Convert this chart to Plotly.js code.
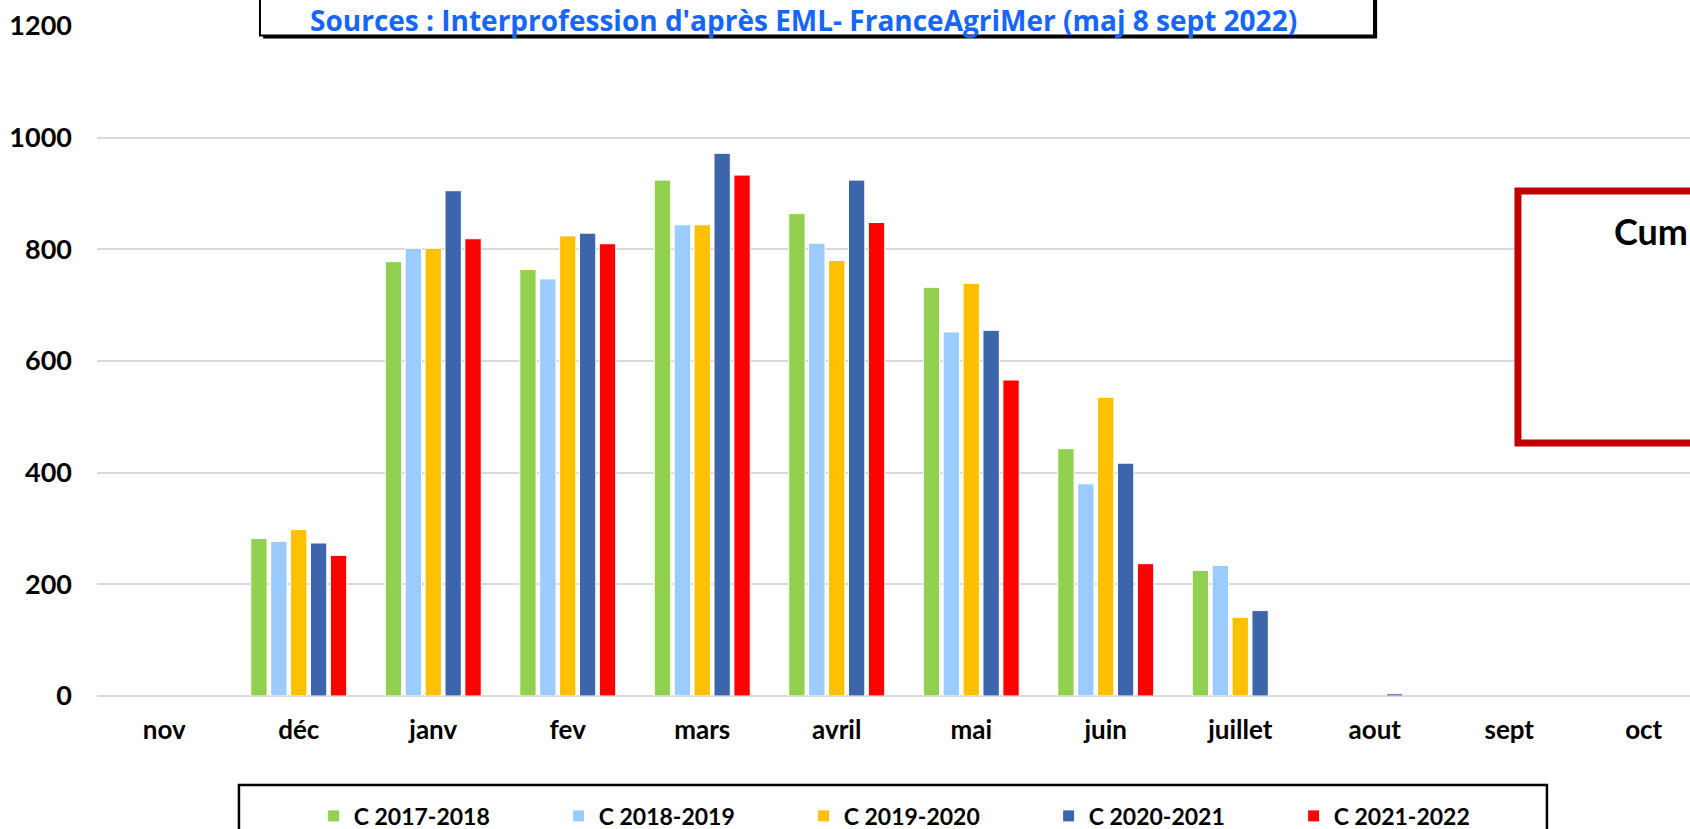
<!DOCTYPE html>
<html>
<head>
<meta charset="utf-8">
<script src="https://cdn.plot.ly/plotly-3.0.1.min.js"></script>
<style>
  html, body { margin: 0; padding: 0; background: #fff; }
  #chart { width: 1690px; height: 829px; }
</style>
</head>
<body>
<div id="chart"></div>
<script>
// months of the campaign (nov -> oct)
var months = ['nov', 'déc', 'janv', 'fev', 'mars', 'avril', 'mai', 'juin', 'juillet', 'aout', 'sept', 'oct'];

var c2017 = [null, 282, 778, 764, 924, 864, 732, 443, 225, null, null, null];
var c2018 = [null, 277, 802, 747, 844, 811, 652, 380, 234, null, null, null];
var c2019 = [null, 298, 802, 824, 844, 780, 739, 535, 141, null, null, null];
var c2020 = [null, 274, 905, 829, 972, 924, 655, 417, 153, 4, null, null];
var c2021 = [null, 252, 819, 810, 933, 848, 566, 237, null, null, null, null];

var seriesNames = ['C 2017-2018', 'C 2018-2019', 'C 2019-2020', 'C 2020-2021', 'C 2021-2022'];
var seriesColors = ['#92D050', '#9BCBFF', '#FFC000', '#3D65AB', '#FF0000'];
var seriesValues = [c2017, c2018, c2019, c2020, c2021];

var yTicks = [0, 200, 400, 600, 800, 1000, 1200];

var boldFont = { family: 'Lato, "Open Sans", sans-serif', weight: 700, color: '#000' };

var data = seriesValues.map(function (vals, i) {
    return {
        name: seriesNames[i],
        type: 'bar',
        x: months,
        y: vals,
        marker: {
            color: seriesColors[i],
            line: { color: '#ffffff', width: 1 }
        },
        hoverinfo: 'x+y+name'
    };
});

// plot area: 97..1690 px wide, 26..696 px high
var layout = {
    width: 1690,
    height: 829,
    paper_bgcolor: '#ffffff',
    plot_bgcolor: '#ffffff',
    margin: { l: 97, r: 0, t: 26, b: 133, pad: 0, autoexpand: false },
    barmode: 'group',
    bargap: 0.26,
    bargroupgap: 0.18,
    showlegend: true,
    legend: {
        orientation: 'h',
        x: 0.136,
        xanchor: 'left',
        y: -0.179,
        yanchor: 'middle',
        entrywidth: 200,
        entrywidthmode: 'pixels',
        font: Object.assign({ size: 23 }, boldFont),
        bgcolor: 'rgba(0,0,0,0)',
        borderwidth: 0
    },
    xaxis: {
        type: 'category',
        range: [-0.5, 11.344],
        automargin: false,
        showgrid: false,
        showline: false,
        zeroline: false,
        ticks: '',
        ticklabelstandoff: 16,
        tickfont: Object.assign({ size: 26 }, boldFont),
        fixedrange: true
    },
    yaxis: {
        range: [0, 1200],
        automargin: false,
        tickmode: 'array',
        tickvals: yTicks,
        ticktext: yTicks.map(String),
        showgrid: true,
        gridcolor: '#D9D9D9',
        gridwidth: 2,
        zeroline: true,
        zerolinecolor: '#D9D9D9',
        zerolinewidth: 2,
        showline: false,
        ticks: '',
        ticklabelstandoff: 24,
        tickfont: Object.assign({ size: 27 }, boldFont),
        fixedrange: true
    },
    shapes: [
        // title box shadow + box
        { type: 'rect', xref: 'paper', yref: 'paper', x0: 0.1043, x1: 0.8036, y0: 0.9813, y1: 1.06,
          fillcolor: '#000000', line: { width: 0 }, layer: 'above' },
        { type: 'rect', xref: 'paper', yref: 'paper', x0: 0.1023, x1: 0.8016, y0: 0.9858, y1: 1.06,
          fillcolor: '#ffffff', line: { color: '#000000', width: 2 }, layer: 'above' },
        // legend frame
        { type: 'rect', xref: 'paper', yref: 'paper', x0: 0.0891, x1: 0.9102, y0: -0.25, y1: -0.1328,
          fillcolor: 'rgba(0,0,0,0)', line: { color: '#000000', width: 2.5 }, layer: 'below' },
        // red box on the right
        { type: 'rect', xref: 'paper', yref: 'paper', x0: 0.892, x1: 1.06, y0: 0.3776, y1: 0.7537,
          fillcolor: '#ffffff', line: { color: '#C00000', width: 7 }, layer: 'above' }
    ],
    annotations: [
        {
            xref: 'paper', yref: 'paper', x: 0.4438, y: 1.009, xanchor: 'center', yanchor: 'middle',
            text: "Sources : Interprofession d'après EML- FranceAgriMer (maj 8 sept 2022)",
            showarrow: false,
            font: { family: '"Open Sans", Lato, sans-serif', weight: 700, size: 28, color: '#1466FF' }
        },
        {
            xref: 'paper', yref: 'paper', x: 0.9508, y: 0.694, xanchor: 'left', yanchor: 'middle',
            text: 'Cum',
            showarrow: false,
            font: { family: 'Lato, "Open Sans", sans-serif', weight: 700, size: 36, color: '#000000' }
        }
    ]
};

var config = { responsive: false, displayModeBar: false, staticPlot: true };

Plotly.newPlot('chart', data, layout, config);
</script>
</body>
</html>
